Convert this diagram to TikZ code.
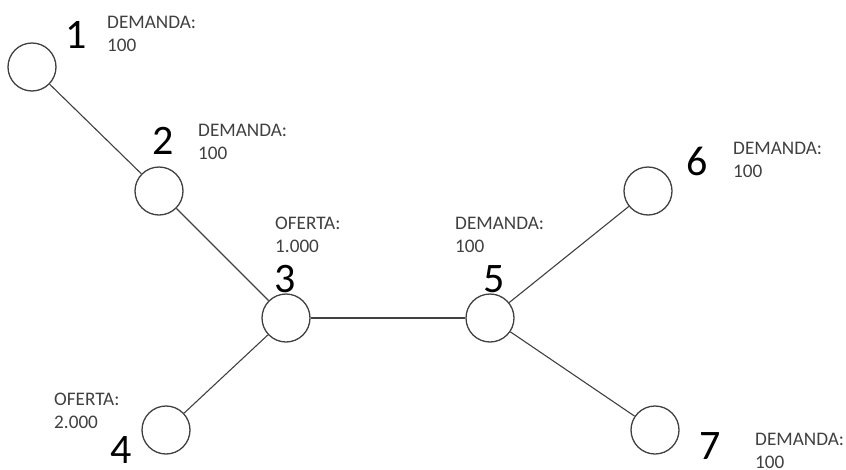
\documentclass[tikz,border=0pt]{standalone}
\usepackage{fontspec}
\setmainfont{Carlito}
\definecolor{linegray}{HTML}{404040}
\definecolor{textgray}{HTML}{404040}
\tikzset{
  vert/.style={circle, draw=linegray, line width=1.3pt, minimum size=48pt, inner sep=0pt, fill=white},
  num/.style={inner sep=0pt, anchor=center, font=\fontsize{42}{50}\selectfont, text=black},
  info/.style={inner sep=0pt, anchor=north west, align=left, font=\fontsize{19.2}{23.2}\selectfont, text=textgray},
  edge/.style={draw=linegray, line width=1.1pt}
}
\begin{document}
\begin{tikzpicture}[x=1pt, y=-1pt]
\useasboundingbox (0,0) rectangle (846,469);
% vertices
\node[vert] (n1) at (32,67) {};
\node[vert] (n2) at (159,191) {};
\node[vert] (n3) at (286,318) {};
\node[vert] (n4) at (166,430) {};
\node[vert] (n5) at (490,318) {};
\node[vert] (n6) at (648,191) {};
\node[vert] (n7) at (655,430) {};
% edges
\draw[edge] (n1) -- (n2);
\draw[edge] (n2) -- (n3);
\draw[edge] (n3) -- (n4);
\draw[edge] (n3) -- (n5);
\draw[edge] (n5) -- (n6);
\draw[edge] (n5) -- (n7);
% numbers
\node[num] (l1) at (76,35) {1};
\node[num] (l2) at (163,141) {2};
\node[num] (l3) at (285,279) {3};
\node[num] (l4) at (121,450) {4};
\node[num] (l5) at (494,279) {5};
\node[num] (l6) at (697,161) {6};
\node[num] (l7) at (710,446) {7};
% info texts
\node[info] (t1) at (107,16) {DEMANDA:\\100};
\node[info] (t2) at (198,124) {DEMANDA:\\100};
\node[info] (t3) at (275,217) {OFERTA:\\1.000};
\node[info] (t4) at (54,393) {OFERTA:\\2.000};
\node[info] (t5) at (455,217) {DEMANDA:\\100};
\node[info] (t6) at (733,142) {DEMANDA:\\100};
\node[info] (t7) at (755,433) {DEMANDA:\\100};
\end{tikzpicture}
\end{document}
